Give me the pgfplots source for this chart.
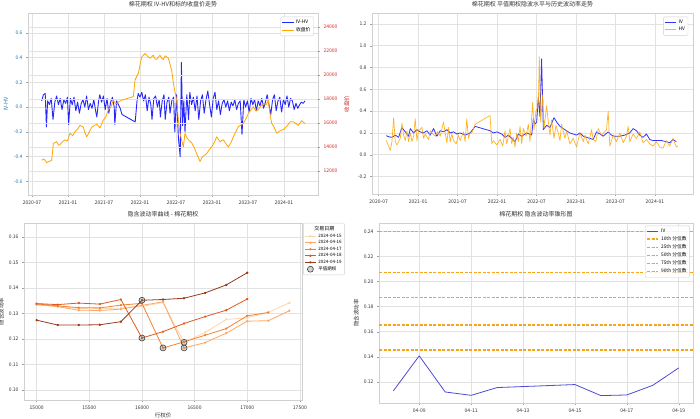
\documentclass[border=0pt]{standalone}
\usepackage{fontspec}
\setmainfont{Noto Sans CJK SC}
\usepackage{pgfplots}
\pgfplotsset{compat=1.18}
\definecolor{gridc}{HTML}{E2E2E2}
\definecolor{spinec}{HTML}{D0D0D0}
\definecolor{tickc}{HTML}{A0A0A0}
\definecolor{labc}{HTML}{333333}
\definecolor{tabblue}{HTML}{1F77B4}
\definecolor{tabred}{HTML}{D62728}
\definecolor{myorange}{HTML}{FFA500}
\definecolor{dashorange}{HTML}{F9A31A}
\definecolor{ivblue}{HTML}{4B4BD6}
\definecolor{cA}{HTML}{FDD5AB}
\definecolor{cB}{HTML}{FDA762}
\definecolor{cC}{HTML}{F4812F}
\definecolor{cD}{HTML}{DD5B1E}
\definecolor{cE}{HTML}{983A1C}
\pgfplotsset{
  base/.style={
    scale only axis,
    scaled ticks=false,
    axis line style={draw=spinec, line width=0.5pt},
    grid=major,
    grid style={draw=gridc, line width=0.5pt},
    tick style={draw=tickc, line width=0.4pt},
    tick align=outside,
    major tick length=2pt,
    xtick pos=left, ytick pos=left,
    tick label style={font=\fontsize{5}{6}\selectfont, text=labc},
    label style={font=\fontsize{5.5}{6.5}\selectfont, text=labc},
    title style={font=\fontsize{6}{7}\selectfont, text=labc, yshift=-4pt},
    /pgf/number format/assume math mode=true,
    /pgf/number format/1000 sep={},
    legend style={font=\fontsize{4.8}{5.5}\selectfont, draw=spinec, rounded corners=1pt, fill=white, fill opacity=0.85, text opacity=1, inner sep=1pt, row sep=-1.5pt},
    legend cell align=left,
    every axis plot/.append style={line join=round},
  },
  shortleg/.style={
    legend image code/.code={\draw[mark repeat=2,mark phase=2] plot coordinates {(0cm,0cm)(0.2cm,0cm)(0.4cm,0cm)};},
  },
}
\begin{document}
\begin{tikzpicture}
\useasboundingbox (0pt,0pt) rectangle (700pt,419pt);
% ---------------- Panel 1 ----------------
\begin{axis}[base,
  at={(28pt,224pt)}, anchor=south west, width=290pt, height=182pt,
  xmin=-0.67, xmax=47.67, ymin=-0.71, ymax=0.76,
  xtick={0,6,12,18,24,30,36,42},
  xticklabels={2020-07,2021-01,2021-07,2022-01,2022-07,2023-01,2023-07,2024-01},
  ytick={-0.6,-0.4,-0.2,0,0.2,0.4,0.6},
  yticklabel style={text=tabblue, /pgf/number format/fixed, /pgf/number format/fixed zerofill, /pgf/number format/precision=1},
  ylabel={IV-HV}, ylabel style={text=tabblue, yshift=-1pt},
  title={棉花期权 IV-HV和标的收盘价走势},
]
\addplot[blue, opacity=0.85, line width=0.9pt] coordinates {
(1.6,0.05)(1.9,0.10)(2.2,0.11)(2.4,-0.16)(2.6,0.05)(2.9,0.02)(3.2,0.07)(3.5,-0.10)(3.8,0.04)(4.1,0.09)(4.4,0.02)(4.7,0.07)(5.0,-0.02)(5.3,0.06)(5.6,0.03)(5.9,0.08)(6.1,-0.14)(6.4,0.07)(6.7,0.02)(7.0,0.08)(7.3,-0.03)(7.6,0.04)(7.9,-0.05)(8.2,0.03)(8.5,0.06)(8.8,0.00)(9.1,0.09)(9.4,-0.02)(9.7,0.03)(10.0,-0.01)(10.3,0.06)(10.6,-0.03)(10.8,-0.08)(11.1,0.05)(11.3,0.10)(11.6,0.04)(11.9,0.09)(12.2,-0.02)(12.5,0.07)(12.8,-0.05)(13.1,0.04)(13.4,0.08)(13.7,0.00)(13.8,-0.14)(14.1,0.05)(14.4,0.02)(14.7,-0.01)(15.0,-0.06)(17.2,-0.12)(17.5,0.05)(17.7,0.11)(18.0,0.08)(18.3,0.12)(18.6,0.05)(18.9,0.10)(19.2,-0.03)(19.5,0.08)(19.8,0.02)(20.0,-0.10)(20.3,0.07)(20.6,0.09)(20.9,0.00)(21.2,0.06)(21.4,-0.08)(21.7,0.05)(22.0,0.10)(22.2,-0.10)(22.5,0.04)(22.8,0.08)(23.0,-0.05)(23.3,0.05)(23.6,0.08)(23.8,-0.20)(24.1,0.10)(24.4,-0.25)(24.7,-0.40)(24.9,0.36)(25.1,-0.15)(25.3,0.05)(25.5,-0.20)(25.8,0.10)(26.1,-0.10)(26.3,0.12)(26.6,0.02)(26.9,0.08)(27.2,-0.03)(27.5,0.09)(27.8,-0.10)(28.1,0.05)(28.4,0.10)(28.7,-0.05)(29.0,0.06)(29.3,0.13)(29.6,0.02)(29.9,-0.08)(30.2,0.07)(30.5,0.12)(30.8,-0.02)(31.1,0.05)(31.4,-0.06)(31.7,0.03)(32.0,0.06)(32.3,0.00)(32.6,0.05)(32.9,-0.03)(33.2,0.04)(33.5,0.01)(33.8,0.06)(34.1,-0.02)(34.4,0.03)(34.7,0.05)(35.0,-0.22)(35.3,0.06)(35.6,0.00)(35.9,0.05)(36.2,-0.04)(36.5,0.07)(36.8,0.02)(37.1,0.06)(37.4,-0.03)(37.7,0.05)(38.0,0.01)(38.3,0.07)(38.6,-0.01)(38.9,0.04)(39.2,0.10)(39.5,0.02)(39.8,-0.06)(40.1,0.06)(40.4,0.10)(40.7,-0.03)(41.0,0.05)(41.3,0.08)(41.6,-0.04)(41.9,0.06)(42.2,0.02)(42.5,0.09)(42.8,0.00)(43.1,0.07)(43.4,0.05)(43.7,-0.02)(44.0,0.03)(44.3,-0.01)(44.6,0.02)(44.9,0.04)(45.2,0.03)(45.5,0.05)
};
\end{axis}
\begin{axis}[base, shortleg,
  at={(28pt,224pt)}, anchor=south west, width=290pt, height=182pt,
  xmin=-0.67, xmax=47.67, ymin=10000, ymax=25170,
  axis x line=none, axis y line*=right, xmajorgrids=false,
  axis line style={draw=none},
  ytick={12000,14000,16000,18000,20000,22000,24000},
  ytick pos=right, yticklabel pos=right,
  yticklabel style={text=tabred},
  ylabel={收盘价}, ylabel style={text=tabred},
  legend style={at={(0.985,0.98)}, anchor=north east},
]
\addlegendimage{blue, opacity=0.85, line width=0.9pt}
\addlegendentry{IV-HV}
\addplot[myorange, line width=0.8pt] coordinates {
(1.6,12900)(2.0,13000)(2.45,12700)(2.9,12800)(3.28,12900)(3.56,14300)(4.11,14450)(4.4,14150)(4.67,14200)(5.1,14450)(5.5,14600)(5.9,14500)(6.33,15150)(6.8,14950)(7.17,15300)(7.6,15500)(8.0,15800)(8.56,15650)(8.8,15200)(9.11,14850)(9.5,15200)(9.94,15650)(10.4,15800)(10.78,15900)(11.33,15600)(11.89,16250)(12.3,16500)(12.72,17100)(13.1,17300)(13.56,17900)(14.0,17600)(14.39,17750)(14.94,17900)(16.89,18200)(17.17,19600)(17.72,20150)(18.28,21500)(18.83,21800)(19.2,21600)(19.67,21400)(20.22,21650)(20.5,21350)(20.78,21300)(21.33,21650)(21.6,21400)(21.89,21300)(22.2,21600)(22.44,21500)(22.72,21400)(23.0,20900)(23.28,20400)(23.56,19300)(24.11,17900)(24.39,16250)(24.67,15150)(25.22,14000)(25.5,15150)(25.8,14800)(26.06,14600)(26.61,14350)(27.0,14000)(27.44,13450)(28.0,12800)(28.3,13100)(28.56,13250)(29.11,13450)(29.5,13750)(29.94,14000)(30.4,14400)(30.78,14850)(31.33,14450)(31.89,14600)(32.3,14300)(32.72,14000)(33.2,14400)(33.56,14850)(34.0,15300)(34.39,15700)(35.22,15950)(35.6,16300)(36.06,16800)(36.5,17100)(36.89,17350)(37.3,17000)(37.72,17100)(38.1,17400)(38.56,17650)(39.0,17500)(39.39,17900)(39.6,17000)(39.94,16000)(40.4,15600)(40.78,15150)(41.2,15300)(41.61,15400)(42.0,15500)(42.44,15700)(43.0,16100)(43.56,16100)(44.0,15950)(44.39,15800)(44.94,16200)(45.5,15950)
};
\addlegendentry{收盘价}
\end{axis}
% ---------------- Panel 2 ----------------
\begin{axis}[base, shortleg,
  at={(372pt,225pt)}, anchor=south west, width=321pt, height=181pt,
  xmin=-1.01, xmax=47.8, ymin=-0.36, ymax=1.3,
  xtick={0,6,12,18,24,30,36,42},
  xticklabels={2020-07,2021-01,2021-07,2022-01,2022-07,2023-01,2023-07,2024-01},
  ytick={-0.2,0,0.2,0.4,0.6,0.8,1.0,1.2},
  yticklabel style={/pgf/number format/fixed, /pgf/number format/fixed zerofill, /pgf/number format/precision=1},
  title={棉花期权 平值期权隐波水平与历史波动率走势},
  legend style={at={(0.985,0.98)}, anchor=north east},
]
\addplot[blue, opacity=0.8, line width=0.8pt] coordinates {
(1.16,0.175)(1.52,0.165)(2.02,0.16)(2.53,0.18)(3.03,0.16)(3.54,0.25)(4.05,0.21)(4.55,0.17)(4.81,0.24)(5.31,0.20)(5.82,0.23)(6.32,0.21)(6.83,0.20)(7.33,0.22)(7.84,0.18)(8.35,0.24)(8.85,0.17)(9.36,0.22)(9.86,0.21)(10.37,0.23)(10.88,0.20)(11.38,0.21)(11.89,0.19)(12.39,0.20)(13.15,0.18)(13.91,0.20)(14.67,0.26)(16.94,0.22)(17.45,0.20)(17.96,0.21)(18.72,0.19)(19.22,0.16)(19.73,0.18)(20.23,0.15)(20.74,0.12)(21.24,0.19)(21.75,0.17)(22.51,0.20)(23.27,0.18)(23.52,0.33)(23.77,0.28)(24.03,0.30)(24.28,0.53)(24.53,0.35)(24.78,0.88)(25.04,0.23)(25.54,0.27)(26.05,0.25)(26.66,0.34)(27.06,0.30)(27.57,0.26)(28.07,0.24)(28.58,0.22)(29.08,0.20)(29.59,0.19)(30.10,0.18)(30.60,0.20)(31.11,0.17)(31.61,0.16)(32.12,0.15)(32.62,0.14)(33.13,0.21)(33.64,0.19)(34.14,0.17)(34.90,0.21)(35.41,0.18)(35.91,0.17)(36.67,0.17)(37.43,0.18)(38.19,0.20)(38.69,0.24)(39.20,0.22)(39.71,0.18)(40.21,0.16)(40.72,0.19)(41.22,0.14)(41.73,0.13)(42.24,0.13)(42.99,0.13)(43.75,0.12)(44.26,0.11)(44.76,0.14)(45.27,0.12)
};
\addlegendentry{IV}
\addplot[myorange, opacity=0.85, line width=0.7pt] coordinates {
(1.16,0.13)(1.52,0.08)(1.77,0.04)(2.02,0.12)(2.28,0.34)(2.53,0.12)(2.78,0.09)(3.29,0.15)(3.54,0.29)(3.79,0.18)(4.05,0.13)(4.30,0.22)(4.55,0.12)(4.81,0.20)(5.06,0.12)(5.31,0.17)(5.56,0.33)(5.82,0.13)(6.07,0.22)(6.58,0.25)(6.83,0.15)(7.08,0.19)(7.59,0.14)(7.84,0.22)(8.09,0.20)(8.60,0.17)(8.95,0.21)(9.36,0.17)(9.86,0.30)(10.12,0.20)(10.37,0.11)(10.62,0.25)(10.88,0.12)(11.13,0.19)(11.38,0.13)(11.79,0.10)(12.14,0.18)(12.39,0.13)(12.90,0.21)(13.15,0.12)(13.40,0.33)(13.66,0.15)(13.91,0.20)(14.16,0.20)(14.67,0.28)(16.94,0.36)(17.20,0.10)(17.45,0.13)(17.96,0.09)(18.46,0.14)(18.87,0.08)(19.22,0.22)(19.47,0.10)(19.98,0.24)(20.23,0.10)(20.48,0.16)(20.74,0.07)(20.99,0.20)(21.24,0.12)(21.50,0.26)(21.75,0.10)(22.00,0.24)(22.41,0.17)(22.76,0.28)(23.01,0.12)(23.42,0.48)(23.62,0.23)(23.92,0.40)(24.28,0.45)(24.43,0.90)(24.63,0.30)(24.94,0.55)(25.14,0.24)(25.54,0.45)(25.80,0.30)(26.05,0.18)(26.30,0.32)(26.66,0.15)(26.96,0.27)(27.31,0.20)(27.57,0.13)(27.82,0.28)(28.33,0.15)(28.58,0.22)(29.08,0.10)(29.59,0.15)(30.10,0.07)(30.60,0.20)(31.11,0.12)(31.36,0.18)(31.86,0.10)(32.12,0.16)(32.37,0.23)(32.62,0.14)(33.03,0.12)(33.38,0.24)(33.89,0.18)(34.65,0.23)(34.90,0.40)(35.15,0.08)(35.66,0.18)(36.16,0.12)(36.67,0.20)(37.18,0.11)(37.68,0.17)(37.94,0.26)(38.19,0.12)(38.69,0.19)(39.20,0.15)(39.71,0.21)(40.21,0.11)(40.72,0.14)(41.22,0.10)(41.73,0.08)(42.24,0.12)(42.74,0.07)(43.25,0.06)(43.75,0.13)(44.26,0.08)(44.76,0.15)(45.27,0.07)(45.52,0.08)
};
\addlegendentry{HV}
\end{axis}
% ---------------- Panel 3 ----------------
\begin{axis}[base, shortleg,
  at={(24pt,19pt)}, anchor=south west, width=278pt, height=177pt,
  xmin=14880, xmax=17520, ymin=0.0961, ymax=0.1655,
  xtick={15000,15500,16000,16500,17000,17500},
  ytick={0.10,0.11,0.12,0.13,0.14,0.15,0.16},
  yticklabel style={/pgf/number format/fixed, /pgf/number format/fixed zerofill, /pgf/number format/precision=2},
  xlabel={行权价}, ylabel={隐含波动率},
  xlabel style={yshift=3pt}, ylabel style={yshift=-2pt},
  title={隐含波动率曲线 - 棉花期权},
  legend style={at={(1.004,1)}, anchor=north west, font=\fontsize{4.5}{5}\selectfont, row sep=-2.2pt},
  every axis plot/.append style={line width=0.8pt, mark=*, mark size=0.8pt},
]
\addlegendimage{empty legend}
\addlegendentry{\hspace{-4pt}\fontsize{5}{6}\selectfont 交易日期}
\addplot[cA, mark options={fill=cA, draw=cA}] coordinates {(15000,0.1333)(15200,0.1328)(15400,0.1320)(15600,0.1318)(15800,0.1322)(16000,0.1328)(16200,0.1343)(16400,0.1187)(16600,0.1226)(16800,0.1277)(17000,0.1283)(17200,0.1305)(17400,0.1342)};
\addlegendentry{2024-04-15}
\addplot[cB, mark options={fill=cB, draw=cB}] coordinates {(15000,0.1336)(15200,0.1327)(15400,0.1313)(15600,0.1312)(15800,0.1317)(16000,0.1332)(16200,0.1346)(16400,0.1165)(16600,0.1186)(16800,0.1223)(17000,0.1270)(17200,0.1272)(17400,0.1311)};
\addlegendentry{2024-04-16}
\addplot[cC, mark options={fill=cC, draw=cC}] coordinates {(15000,0.1338)(15200,0.1330)(15400,0.1323)(15600,0.1322)(15800,0.1333)(16000,0.1340)(16200,0.1165)(16400,0.1189)(16600,0.1215)(16800,0.1241)(17000,0.1291)(17200,0.1304)};
\addlegendentry{2024-04-17}
\addplot[cD, mark options={fill=cD, draw=cD}] coordinates {(15000,0.1339)(15200,0.1335)(15400,0.1341)(15600,0.1337)(15800,0.1355)(16000,0.1204)(16200,0.1229)(16400,0.1261)(16600,0.1288)(16800,0.1313)(17000,0.1357)};
\addlegendentry{2024-04-18}
\addplot[cE, mark options={fill=cE, draw=cE}] coordinates {(15000,0.1274)(15200,0.1255)(15400,0.1255)(15600,0.1256)(15800,0.1268)(16000,0.1352)(16200,0.1355)(16400,0.1360)(16600,0.1381)(16800,0.1412)(17000,0.1460)};
\addlegendentry{2024-04-19}
\addplot[only marks, mark=*, mark size=3pt, mark options={draw=black!75, line width=0.6pt, fill=gray, fill opacity=0.35}] coordinates {(16000,0.1352)(16000,0.1204)(16200,0.1165)(16400,0.1165)(16400,0.1187)};
\addlegendentry{平值期权}
\end{axis}
% ---------------- Panel 4 ----------------
\begin{axis}[base, shortleg,
  at={(379pt,16pt)}, anchor=south west, width=314pt, height=180pt,
  xmin=7.45, xmax=19.55, ymin=0.1032, ymax=0.2467,
  xtick={9,11,13,15,17,19},
  xticklabels={04-09,04-11,04-13,04-15,04-17,04-19},
  ytick={0.12,0.14,0.16,0.18,0.20,0.22,0.24},
  yticklabel style={/pgf/number format/fixed, /pgf/number format/fixed zerofill, /pgf/number format/precision=2},
  ylabel={隐含波动率}, ylabel style={yshift=-2pt},
  title={棉花期权 隐含波动率锥形图},
  legend style={at={(0.99,0.985)}, anchor=north east},
]
\addplot[ivblue, line width=0.8pt] coordinates {(8,0.1128)(9,0.1408)(10,0.1120)(11,0.1093)(12,0.1155)(15,0.1179)(16,0.1091)(17,0.1096)(18,0.1173)(19,0.1312)};
\addlegendentry{IV}
\addplot[dashorange, line width=1.5pt, dash pattern=on 3pt off 1.5pt] coordinates {(7.45,0.1453)(19.55,0.1453)};
\addlegendentry{10th 分位数}
\addplot[dashorange, line width=1.5pt, dash pattern=on 3pt off 1.5pt] coordinates {(7.45,0.1653)(19.55,0.1653)};
\addlegendentry{25th 分位数}
\addplot[dashorange, line width=1.5pt, dash pattern=on 3pt off 1.5pt] coordinates {(7.45,0.1872)(19.55,0.1872)};
\addlegendentry{50th 分位数}
\addplot[dashorange, line width=1.5pt, dash pattern=on 3pt off 1.5pt] coordinates {(7.45,0.2072)(19.55,0.2072)};
\addlegendentry{75th 分位数}
\addplot[dashorange, line width=1.5pt, dash pattern=on 3pt off 1.5pt] coordinates {(7.45,0.2398)(19.55,0.2398)};
\addlegendentry{90th 分位数}
\end{axis}
\end{tikzpicture}
\end{document}
